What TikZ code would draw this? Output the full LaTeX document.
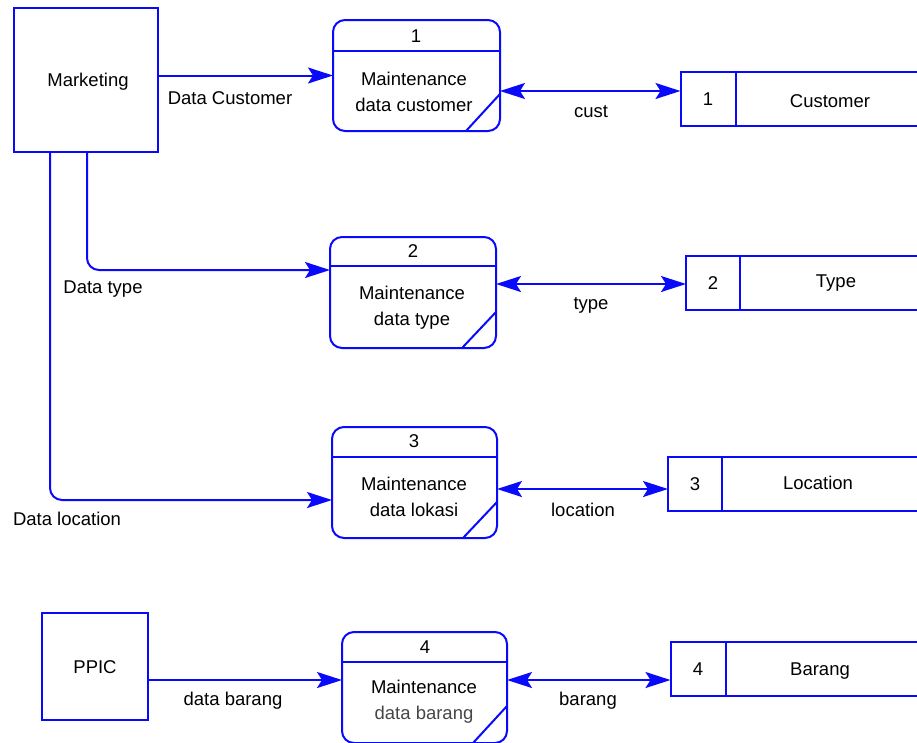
\documentclass[tikz,border=0pt]{standalone}
\usepackage{fontspec}
\setmainfont{Liberation Sans}
\usetikzlibrary{arrows.meta,calc}
\definecolor{dfdblue}{RGB}{10,10,250}
\definecolor{softtext}{RGB}{70,70,70}
\begin{document}
\begin{tikzpicture}[x=1pt,y=-1pt,
  ln/.style={draw=dfdblue, line width=2pt},
  flow/.style={ln, -{Stealth[length=25pt,width=16pt,inset=5pt]}},
  both/.style={ln, {Stealth[length=25pt,width=16pt,inset=5pt]}-{Stealth[length=25pt,width=16pt,inset=5pt]}},
  proc/.style={ln, outer sep=0pt, rounded corners=12pt, minimum width=166pt, minimum height=111pt, inner sep=0pt},
  ent/.style={ln, outer sep=0pt, inner sep=0pt},
  cell/.style={ln, outer sep=0pt, minimum width=55pt, minimum height=54pt, inner sep=0pt, font=\fontsize{18.5}{22}\selectfont},
  lbl/.style={inner sep=0pt, text=black, font=\fontsize{18.5}{26}\selectfont, align=center}
]
\useasboundingbox (0,0) rectangle (917,742);
\clip (0,0) rectangle (917,742);

% external entities
\node[ent, minimum width=144pt, minimum height=144pt] (mkt) at (86,80) {};
\node[ent, minimum width=106pt, minimum height=107pt] (ppic) at (95,666.5) {};
\node[lbl] (mktt) at (88,82) {Marketing};
\node[lbl] (ppict) at (95,667) {PPIC};

% processes
\node[proc, minimum width=167pt] (p1) at (416.5,75.5) {};
\node[proc] (p2) at (413,292.5) {};
\node[proc, minimum width=165pt] (p3) at (414.5,482.5) {};
\node[proc, minimum width=165pt] (p4) at (424.5,687.5) {};
\foreach \p/\r/\d in {p1/31/37, p2/29/36, p3/30/36, p4/30/37}{
  \draw[ln] ($(\p.north west)+(0,\r)$) -- ($(\p.north east)+(0,\r)$);
  \draw[ln] ($(\p.south east)+(-34,0)$) -- ($(\p.south east)+(0,-\d)$);
}
\node[lbl] (p1n) at (416,36) {1};
\node[lbl] (p1t) at (414,92) {Maintenance\\data customer};
\node[lbl] (p2n) at (413,251) {2};
\node[lbl] (p2t) at (412,308) {Maintenance\\data type};
\node[lbl] (p3n) at (414,441) {3};
\node[lbl] (p3t) at (414,497) {Maintenance\\data lokasi};
\node[lbl] (p4n) at (425,647) {4};
\node[lbl] (p4t) at (424,702) {Maintenance\\\textcolor{softtext}{data barang}};

% data stores
\node[cell] (s1) at (708,99) {1};
\node[cell, minimum width=54pt] (s2) at (713,283) {2};
\node[cell, minimum width=54pt] (s3) at (695,484) {3};
\node[cell] (s4) at (698,669) {4};
\foreach \s in {s1,s2,s3,s4}{
  \draw[ln] (\s.north east) -- ($(\s.north east)+(260,0)$);
  \draw[ln] (\s.south east) -- ($(\s.south east)+(260,0)$);
}
\node[lbl] (s1t) at (830,101) {Customer};
\node[lbl] (s2t) at (836,283) {Type};
\node[lbl] (s3t) at (818,483) {Location};
\node[lbl] (s4t) at (820,671) {Barang};

% flows from entities
\draw[flow] (mkt.east |- p1.west) -- (p1.west);
\draw[flow, rounded corners=12pt] ($(mkt.south)+(1,0)$) |- ($(p2.north west)+(0,33)$);
\draw[flow, rounded corners=12pt] ($(mkt.south)+(-36,0)$) |- ($(p3.north west)+(0,73)$);
\draw[flow] ($(ppic.east)+(0,13.5)$) -- ($(p4.west)+(0,-7.5)$);

% flows between processes and stores
\draw[both] ($(p1.east)+(0,15.5)$) -- ($(s1.west)+(0,-8)$);
\draw[both] ($(p2.east)+(0,-8.5)$) -- ($(s2.west)+(0,1)$);
\draw[both] ($(p3.east)+(0,6.5)$) -- ($(s3.west)+(0,5)$);
\draw[both] ($(p4.east)+(0,-7.5)$) -- ($(s4.west)+(0,11)$);

% flow labels
\node[lbl] (l1) at (230,98) {Data Customer};
\node[lbl] (l2) at (103,289) {Data type};
\node[lbl] (l3) at (67,519) {Data location};
\node[lbl] (l4) at (233,701) {data barang};
\node[lbl] (c1) at (591,112) {cust};
\node[lbl] (c2) at (591,305) {type};
\node[lbl] (c3) at (583,510) {location};
\node[lbl] (c4) at (588,701) {barang};
\end{tikzpicture}
\end{document}
